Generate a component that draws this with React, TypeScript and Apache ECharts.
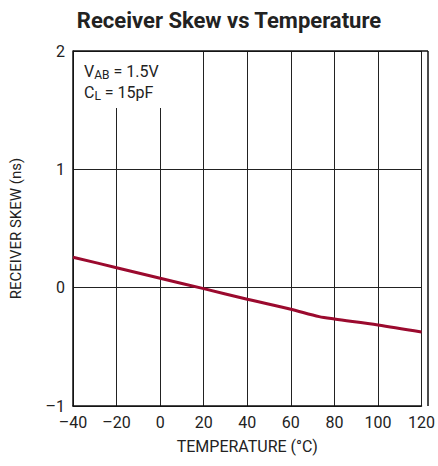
import React, { useEffect, useRef } from "react";
import * as echarts from "echarts";

const temperatures = [-40, -20, 0, 20, 40, 60, 73, 80, 100, 120];
const skew = [0.257, 0.169, 0.079, -0.008, -0.098, -0.183, -0.245, -0.265, -0.315, -0.375];
const titleText = "Receiver Skew vs Temperature";
const xAxisName = "TEMPERATURE (°C)";
const yAxisName = "RECEIVER SKEW (ns)";

const FONT = "'Liberation Sans Narrow', 'Roboto', sans-serif";

const fmt = (v: number) => String(v).replace("-", "\u2013");

export default function App() {
  const ref = useRef<HTMLDivElement>(null);
  useEffect(() => {
    if (!ref.current) return;
    const chart = echarts.init(ref.current, undefined, { renderer: "svg" });
    chart.setOption({
      animation: false,
      backgroundColor: "#fff",
      title: {
        text: titleText,
        left: 224,
        textAlign: "center",
        top: 4,
        textStyle: { fontFamily: FONT, fontWeight: "bold", fontSize: 22, color: "#222" },
      },
      grid: { left: 73, right: 10, top: 51, bottom: 60 },
      xAxis: {
        type: "value",
        min: -40,
        max: 120,
        interval: 20,
        name: xAxisName,
        nameLocation: "middle",
        nameGap: 32,
        nameTextStyle: { fontFamily: FONT, fontSize: 16, color: "#222" },
        axisLine: { show: true, onZero: false, lineStyle: { color: "#111", width: 1.5 } },
        axisTick: { show: false },
        axisLabel: {
          fontFamily: FONT,
          fontSize: 16,
          color: "#222",
          margin: 8,
          formatter: fmt,
        },
        splitLine: { show: true, lineStyle: { color: "#222", width: 1 } },
      },
      yAxis: {
        type: "value",
        min: -1,
        max: 2,
        interval: 1,
        name: yAxisName,
        nameLocation: "middle",
        nameGap: 50,
        nameTextStyle: { fontFamily: FONT, fontSize: 15, color: "#222" },
        axisLine: { show: true, onZero: false, lineStyle: { color: "#111", width: 1.5 } },
        axisTick: { show: false },
        axisLabel: {
          fontFamily: FONT,
          fontSize: 16,
          color: "#222",
          margin: 8,
          formatter: fmt,
        },
        splitLine: { show: true, lineStyle: { color: "#222", width: 1 } },
      },
      graphic: [
        {
          type: "rect",
          shape: { x: 74, y: 52, width: 96, height: 56 },
          style: { fill: "#fff" },
          z: 10,
        },
        {
          type: "line",
          shape: { x1: 428, y1: 51, x2: 428, y2: 406 },
          style: { stroke: "#111", lineWidth: 1.5 },
          z: 10,
        },
        {
          type: "line",
          shape: { x1: 73, y1: 51, x2: 428, y2: 51 },
          style: { stroke: "#111", lineWidth: 1.5 },
          z: 10,
        },
        {
          type: "text",
          x: 84,
          y: 62,
          z: 11,
          style: {
            text: "{n|V}{s|AB}{n| = 1.5V}",
            rich: {
              n: { fontFamily: FONT, fontSize: 16, fill: "#222", lineHeight: 18 },
              s: { fontFamily: FONT, fontSize: 12, fill: "#222", padding: [7, 0, 0, 0], lineHeight: 18 },
            },
          },
        },
        {
          type: "text",
          x: 84,
          y: 83,
          z: 11,
          style: {
            text: "{n|C}{s|L}{n| = 15pF}",
            rich: {
              n: { fontFamily: FONT, fontSize: 16, fill: "#222", lineHeight: 18 },
              s: { fontFamily: FONT, fontSize: 12, fill: "#222", padding: [7, 0, 0, 0], lineHeight: 18 },
            },
          },
        },
      ],
      series: [
        {
          type: "line",
          data: temperatures.map((t, i) => [t, skew[i]]),
          symbol: "none",
          smooth: 0.3,
          lineStyle: { color: "#9b0a2e", width: 3 },
          z: 5,
        },
      ],
    });
    return () => chart.dispose();
  }, []);
  return (
    <div
      ref={ref}
      style={{ position: "fixed", left: 0, top: 0, width: 438, height: 466 }}
    />
  );
}
